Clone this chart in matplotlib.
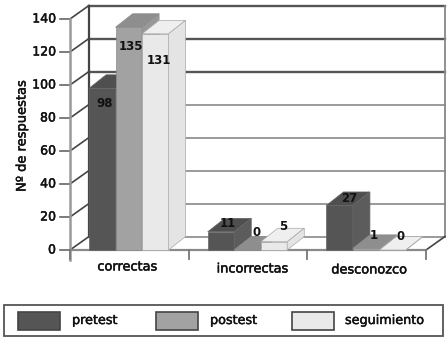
import matplotlib
matplotlib.use('Agg')
import matplotlib.pyplot as plt
import matplotlib.patheffects as pe
from matplotlib.patches import Rectangle

categories = ['correctas', 'incorrectas', 'desconozco']
series_names = ['pretest', 'postest', 'seguimiento']
pretest = [98, 11, 27]
postest = [135, 0, 1]
seguimiento = [131, 5, 0]
yticks = [0, 20, 40, 60, 80, 100, 120, 140]

W, H = 448, 341
fig = plt.figure(figsize=(W / 100, H / 100), dpi=100)
ax = fig.add_axes([70 / W, 1 - 250 / H, 356 / W, 231 / H])
ax.set_xlim(0, 3)
ax.set_ylim(0, 140)
ax.axis('off')

# size of one pixel in data units, the fake 3d depth is set from it
px = 3 / 356
py = 140 / 231
dx = 19 * px
dy = 13.5 * py
bar_w = 26.5 * px
front = ['#555555', '#a2a2a2', '#e9e9e9']
tops = ['#4f4f4f', '#8e8e8e', '#efefef']
sides = ['#5c5c5c', '#989898', '#e4e4e4']
edges = ['#666666', '#8c8c8c', '#a8a8a8']
label_shift = [[-15, -19, -27], [8, 17, 15], [6.5, 13, 14]]
label_xshift = [[2, 2, 4], [7, 9, 9], [10, 8, 8]]
cat_shift = [-2, 4.5, 2.5]
cat_y = [-17, -19, -20]

# thicker strokes, the reference text is a heavy bitmap font
heavy = [pe.withStroke(linewidth=0.35, foreground='#111111')]

# back wall and floor
for t in yticks:
    c = '#555555' if t >= 100 else '#9a9a9a'
    lw = 1.7 if t >= 100 else 1.4
    ax.plot([dx, 3 + dx], [t + dy, t + dy], color=c, lw=lw, clip_on=False, zorder=1)
    ax.plot([0, dx], [t, t + dy], color='#444444', lw=1.2, clip_on=False, zorder=2)
    ax.plot([-10 * px, 0], [t, t], color='#666666', lw=1.2, clip_on=False, zorder=2)
    ax.text(-14 * px, t, str(t), ha='right', va='center', fontsize=9, color='#111111',
            path_effects=heavy)
ax.plot([dx, dx], [dy, 140 + dy], color='#444444', lw=1.6, clip_on=False, zorder=2)
ax.plot([3 + dx, 3 + dx], [dy, 140 + dy], color='#888888', lw=1.3, clip_on=False, zorder=2)
ax.plot([3, 3 + dx], [0, dy], color='#444444', lw=1.2, clip_on=False, zorder=2)
ax.plot([0, 0], [-10 * py, 140], color='#9a9a9a', lw=1.8, clip_on=False, zorder=3)
ax.plot([0, 3], [0, 0], color='#8a8a8a', lw=1.6, clip_on=False, zorder=3)
for i in range(4):
    ax.plot([i, i], [-9 * py, 0], color='#777777', lw=1.3, clip_on=False, zorder=3)

# bars, front face plus top and side
for g in range(3):
    x0 = g + 19 * px
    for s, vals in enumerate([pretest, postest, seguimiento]):
        v = vals[g]
        x = x0 + s * bar_w
        z = 10 + g * 3 + s
        ax.bar(x, v, width=bar_w, align='edge', color=front[s], edgecolor=edges[s],
               linewidth=0.5, clip_on=False, zorder=z)
        ax.fill([x, x + bar_w, x + bar_w + dx * 0.9, x + dx * 0.9],
                [v, v, v + dy, v + dy], facecolor=tops[s], edgecolor=edges[s],
                linewidth=0.5, clip_on=False, zorder=z)
        ax.fill([x + bar_w, x + bar_w + dx * 0.9, x + bar_w + dx * 0.9, x + bar_w],
                [0, dy, v + dy, v], facecolor=sides[s], edgecolor=edges[s],
                linewidth=0.5, clip_on=False, zorder=z)

# value labels
for g in range(3):
    x0 = g + 19 * px
    for s, vals in enumerate([pretest, postest, seguimiento]):
        v = vals[g]
        x = x0 + s * bar_w + bar_w / 2 + label_xshift[g][s] * px
        ax.text(x, v + label_shift[g][s] * py, str(v), ha='center', va='center',
                fontsize=8.5, fontweight='bold', color='#111111', zorder=40, clip_on=False)

for i, name in enumerate(categories):
    ax.text(i + 0.5 + cat_shift[i] * px, cat_y[i] * py, name, ha='center', va='center',
            fontsize=9.3, color='#111111', path_effects=heavy)

ax.text(-48 * px, 69, 'Nº de respuestas', rotation=90, ha='center', va='center',
        fontsize=9.4, color='#111111', path_effects=heavy)

# legend box drawn in figure pixels
leg = fig.add_axes([0, 0, 1, 1], facecolor='none')
leg.set_xlim(0, W)
leg.set_ylim(H, 0)
leg.axis('off')
leg.add_patch(Rectangle((4, 305), 439, 31, facecolor='white', edgecolor='#555555', lw=1.3))
for x, c, name, tx in zip([18, 156, 292], front, series_names, [72, 210, 345]):
    leg.add_patch(Rectangle((x, 312), 42, 18, facecolor=c, edgecolor='#444444', lw=1.2))
    leg.text(tx, 320.5, name, ha='left', va='center', fontsize=9.2, color='#111111',
             path_effects=heavy)

fig.savefig('out.png', dpi=100)
